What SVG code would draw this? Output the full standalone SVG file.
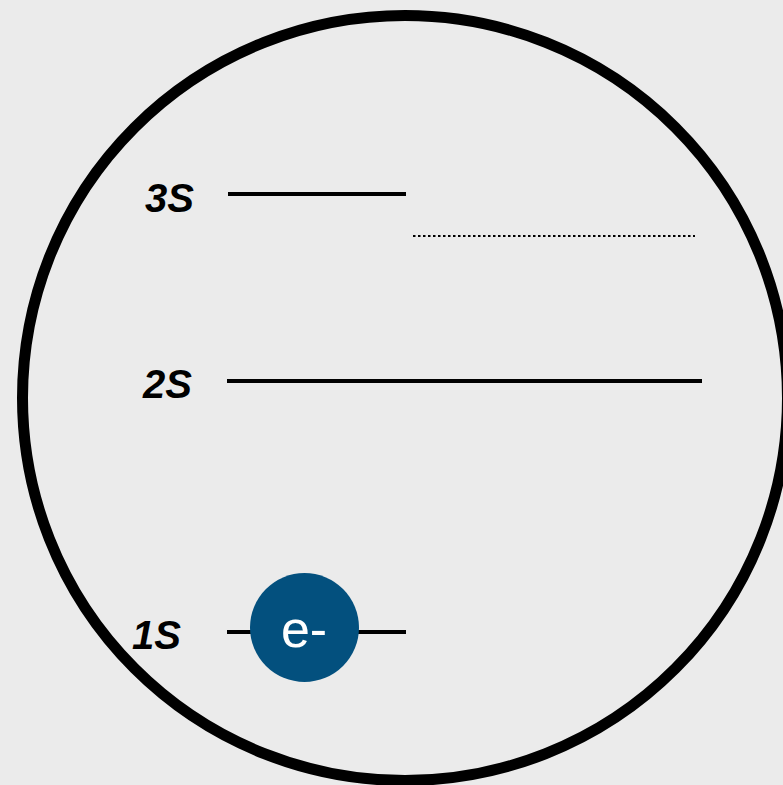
<svg xmlns="http://www.w3.org/2000/svg" width="783" height="785" viewBox="0 0 783 785">
<style>
.lvl{stroke:#000;stroke-width:4;fill:none}
.lbl{font-family:"Liberation Sans",Arial,sans-serif;font-weight:bold;font-style:italic;font-size:40px;fill:#000}
</style>
<rect width="783" height="785" fill="#EBEBEB"/>
<g id="atom"><circle cx="405" cy="398" r="382.5" fill="none" stroke="#000" stroke-width="11"/></g>
<g id="connectors">
<line class="lvl" x1="228" y1="194" x2="406" y2="194"/>
<line x1="413" y1="236" x2="695" y2="236" stroke="#000" stroke-width="2.2" stroke-dasharray="2.5 2.5"/>
<line class="lvl" x1="227" y1="381" x2="702" y2="381"/>
<line class="lvl" x1="227" y1="632" x2="406" y2="632"/>
</g>
<g id="label-3s"><text class="lbl" x="145" y="212">3S</text></g>
<g id="label-2s"><text class="lbl" x="143" y="398">2S</text></g>
<g id="label-1s"><text class="lbl" x="132" y="649">1S</text></g>
<g id="electron">
<circle cx="304.5" cy="627.5" r="54.5" fill="#03507E"/>
<text x="304" y="647" text-anchor="middle" font-family="'Liberation Sans',Arial,sans-serif" font-size="52" fill="#fff">e-</text>
</g>
</svg>
